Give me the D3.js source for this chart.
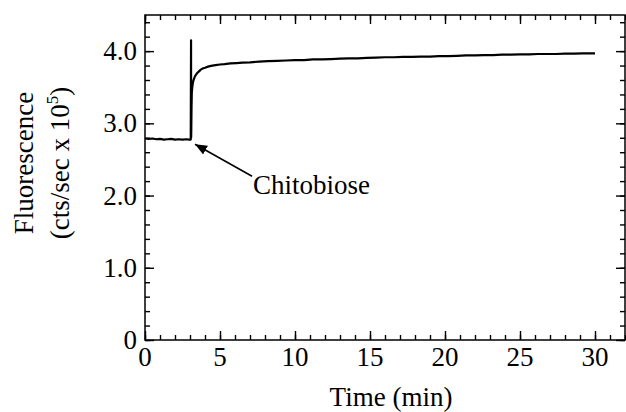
<!DOCTYPE html>
<html>
<head>
<meta charset="utf-8">
<script src="https://cdn.jsdelivr.net/npm/d3@7"></script>
<style>
  html, body { margin: 0; padding: 0; background: #fff; }
  svg { display: block; }
  text { font-family: "Liberation Serif", "Times New Roman", serif; fill: #000; }
</style>
</head>
<body>
<svg id="chart" width="626" height="412"></svg>
<script>
// Fluorescence trace: time (min) and signal (cts/sec x 10^5)
const times = [
  0, 0.25, 0.5, 0.75, 1, 1.25, 1.5, 1.75, 2, 2.25, 2.5, 2.75, 2.95, 3.05,
  3.07, 3.075, 3.085, 3.1, 3.12, 3.15, 3.2, 3.27, 3.33, 3.42, 3.5, 3.6, 3.7, 3.85,
  4.0, 4.2, 4.4, 4.7, 5.0, 5.3, 5.7, 6.1, 6.5, 7.0, 7.6, 8.2, 8.8, 9.4, 10.0,
  10.6, 11.2, 11.8, 12.4, 13.0, 13.6, 14.2, 14.8, 15.4, 16.0, 16.6, 17.2, 17.8,
  18.4, 19.0, 19.6, 20.2, 20.8, 21.4, 22.0, 22.6, 23.2, 23.8, 24.4, 25.0, 25.6,
  26.2, 26.8, 27.4, 28.0, 28.6, 29.2, 29.8, 30.0
];
const signal = [
  2.79, 2.785, 2.79, 2.78, 2.785, 2.775, 2.78, 2.785, 2.775, 2.78, 2.775, 2.78, 2.775, 2.775,
  4.15, 2.8, 2.9, 3.2, 3.42, 3.5, 3.57, 3.62, 3.65, 3.68, 3.7, 3.72, 3.74, 3.76,
  3.77, 3.785, 3.795, 3.805, 3.815, 3.82, 3.83, 3.835, 3.84, 3.845, 3.855, 3.86, 3.865, 3.87, 3.875,
  3.875, 3.885, 3.885, 3.89, 3.895, 3.9, 3.9, 3.905, 3.91, 3.915, 3.915, 3.92, 3.92,
  3.925, 3.925, 3.93, 3.93, 3.935, 3.94, 3.94, 3.945, 3.945, 3.95, 3.95, 3.955, 3.955,
  3.96, 3.96, 3.96, 3.965, 3.965, 3.97, 3.97, 3.97
];

const xMajor = [0, 5, 10, 15, 20, 25, 30];
const xMinor = d3.range(0, 33, 1);
const yMajor = [0, 1, 2, 3, 4];
const yMajorLabels = ["0", "1.0", "2.0", "3.0", "4.0"];
const yMinor = d3.range(0, 4.5, 0.2);

const annotationText = "Chitobiose";
const annotationTime = 3.07;
const annotationValue = 2.78;

const svg = d3.select("#chart");
const margin = { left: 145, top: 15, right: 1, bottom: 72 };
const W = 626, H = 412;
const x = d3.scaleLinear().domain([0, 32]).range([margin.left, W - margin.right]);
const y = d3.scaleLinear().domain([0, 4.5]).range([H - margin.bottom, margin.top]);

const fontSize = 27;
const majorLen = 9, minorLen = 5;

// Frame
svg.append("rect")
  .attr("x", x(0)).attr("y", y(4.5))
  .attr("width", x(32) - x(0)).attr("height", y(0) - y(4.5))
  .attr("fill", "none").attr("stroke", "#000").attr("stroke-width", 1.5);

// Ticks on all four sides, pointing inward
const axisStyle = g => g.call(s => s.select(".domain").remove())
  .selectAll("line").attr("stroke", "#000").attr("stroke-width", 1.4);

svg.append("g").attr("transform", `translate(0,${y(0)})`)
  .call(d3.axisTop(x).tickValues(xMinor).tickSize(minorLen).tickFormat(""))
  .call(axisStyle);
svg.append("g").attr("transform", `translate(0,${y(0)})`)
  .call(d3.axisTop(x).tickValues(xMajor).tickSize(majorLen).tickFormat(""))
  .call(axisStyle);
svg.append("g").attr("transform", `translate(0,${y(4.5)})`)
  .call(d3.axisBottom(x).tickValues(xMinor).tickSize(minorLen).tickFormat(""))
  .call(axisStyle);
svg.append("g").attr("transform", `translate(0,${y(4.5)})`)
  .call(d3.axisBottom(x).tickValues(xMajor).tickSize(majorLen).tickFormat(""))
  .call(axisStyle);
svg.append("g").attr("transform", `translate(${x(0)},0)`)
  .call(d3.axisRight(y).tickValues(yMinor).tickSize(minorLen).tickFormat(""))
  .call(axisStyle);
svg.append("g").attr("transform", `translate(${x(0)},0)`)
  .call(d3.axisRight(y).tickValues(yMajor).tickSize(majorLen).tickFormat(""))
  .call(axisStyle);
svg.append("g").attr("transform", `translate(${x(32)},0)`)
  .call(d3.axisLeft(y).tickValues(yMinor).tickSize(minorLen).tickFormat(""))
  .call(axisStyle);
svg.append("g").attr("transform", `translate(${x(32)},0)`)
  .call(d3.axisLeft(y).tickValues(yMajor).tickSize(majorLen).tickFormat(""))
  .call(axisStyle);

// Tick labels
svg.append("g").selectAll("text").data(xMajor).join("text")
  .attr("x", d => x(d)).attr("y", y(0) + 26)
  .attr("text-anchor", "middle").attr("font-size", fontSize)
  .text(d => d);
svg.append("g").selectAll("text").data(yMajor).join("text")
  .attr("x", x(0) - 8).attr("y", d => y(d) + 9)
  .attr("text-anchor", "end").attr("font-size", fontSize)
  .text((d, i) => yMajorLabels[i]);

// Axis titles
svg.append("text")
  .attr("x", (x(0) + x(32)) / 2 + 6).attr("y", 406)
  .attr("text-anchor", "middle").attr("font-size", fontSize)
  .text("Time (min)");

const yt = svg.append("g").attr("transform", "translate(0,163) rotate(-90)");
yt.append("text").attr("x", 0).attr("y", 33)
  .attr("text-anchor", "middle").attr("font-size", fontSize)
  .text("Fluorescence");
const yt2 = yt.append("text").attr("x", 0).attr("y", 69)
  .attr("text-anchor", "middle").attr("font-size", fontSize);
yt2.append("tspan").text("(cts/sec x 10");
yt2.append("tspan").attr("font-size", 17).attr("dy", -11).text("5");
yt2.append("tspan").attr("dy", 11).text(")");

// Trace
const pts = times.map((t, i) => [t, signal[i]]);
svg.append("path")
  .datum(pts)
  .attr("fill", "none").attr("stroke", "#000").attr("stroke-width", 2.2)
  .attr("stroke-linejoin", "round")
  .attr("d", d3.line().x(d => x(d[0])).y(d => y(d[1])));

// Annotation arrow and label
const defs = svg.append("defs");
defs.append("marker").attr("id", "arrowhead")
  .attr("viewBox", "0 0 12 10").attr("refX", 12).attr("refY", 5)
  .attr("markerWidth", 12).attr("markerHeight", 10)
  .attr("markerUnits", "userSpaceOnUse").attr("orient", "auto")
  .append("path").attr("d", "M0,0 L12,5 L0,10 Z").attr("fill", "#000");

const tipX = x(annotationTime) + 4, tipY = y(annotationValue) + 5;
svg.append("line")
  .attr("x1", tipX + 57).attr("y1", tipY + 32)
  .attr("x2", tipX).attr("y2", tipY)
  .attr("stroke", "#000").attr("stroke-width", 1.6)
  .attr("marker-end", "url(#arrowhead)");
svg.append("text")
  .attr("x", 253).attr("y", 194)
  .attr("font-size", fontSize)
  .text(annotationText);
</script>
</body>
</html>
